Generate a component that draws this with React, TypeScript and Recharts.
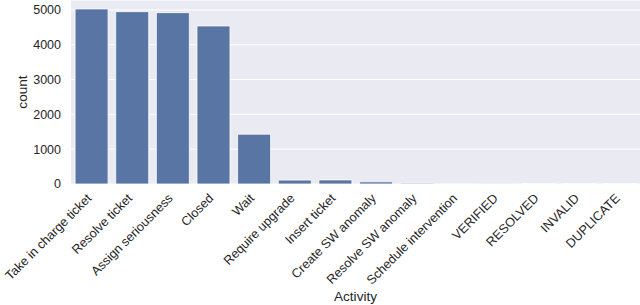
import { BarChart, Bar, XAxis, YAxis, CartesianGrid, Label } from "recharts";

const activities = [
  "Take in charge ticket",
  "Resolve ticket",
  "Assign seriousness",
  "Closed",
  "Wait",
  "Require upgrade",
  "Insert ticket",
  "Create SW anomaly",
  "Resolve SW anomaly",
  "Schedule intervention",
  "VERIFIED",
  "RESOLVED",
  "INVALID",
  "DUPLICATE",
];
const counts = [5029, 4951, 4922, 4540, 1432, 112, 118, 62, 24, 14, 4, 3, 2, 1];
const yTicks = [0, 1000, 2000, 3000, 4000, 5000];

const data = activities.map((name, i) => ({ name, count: counts[i] }));

const FONT = "'Liberation Sans', Arial, sans-serif";
const INK = "#262626";

// rotated category labels, right end pinned under the bar
const RotatedTick = (props: any) => {
  const { x, y, payload } = props;
  return (
    <g transform={`translate(${x + 1},${y + 15}) rotate(-45)`}>
      <text x={0} y={0} textAnchor="end" fill={INK} fontSize={12.7} fontFamily={FONT}>
        {payload.value}
      </text>
    </g>
  );
};

export default function App() {
  return (
    <div style={{ position: "absolute", left: 0, top: 0 }}>
      <BarChart
        width={640}
        height={305}
        data={data}
        margin={{ top: 0, right: 0, bottom: 0, left: 0 }}
        barCategoryGap="10%"
      >
        <CartesianGrid vertical={false} stroke="#ffffff" strokeWidth={1} fill="#EAEAF2" fillOpacity={1} />
        <XAxis
          dataKey="name"
          height={121}
          interval={0}
          axisLine={false}
          tickLine={false}
          tickSize={0}
          tickMargin={0}
          tick={<RotatedTick />}
        >
          <Label
            value="Activity"
            position="insideBottom"
            offset={4}
            fill={INK}
            fontSize={13.6}
            fontFamily={FONT}
          />
        </XAxis>
        <YAxis
          width={71}
          domain={[0, 5285]}
          ticks={yTicks}
          axisLine={false}
          tickLine={false}
          tickSize={0}
          tickMargin={10}
          tick={{ fill: INK, fontSize: 12.5, fontFamily: FONT }}
        >
          <Label
            value="count"
            angle={-90}
            position="center"
            dx={-13}
            fill={INK}
            fontSize={13.6}
            fontFamily={FONT}
          />
        </YAxis>
        <Bar dataKey="count" fill="#5975A4" stroke="#ffffff" strokeWidth={0.8} isAnimationActive={false} />
      </BarChart>
    </div>
  );
}
